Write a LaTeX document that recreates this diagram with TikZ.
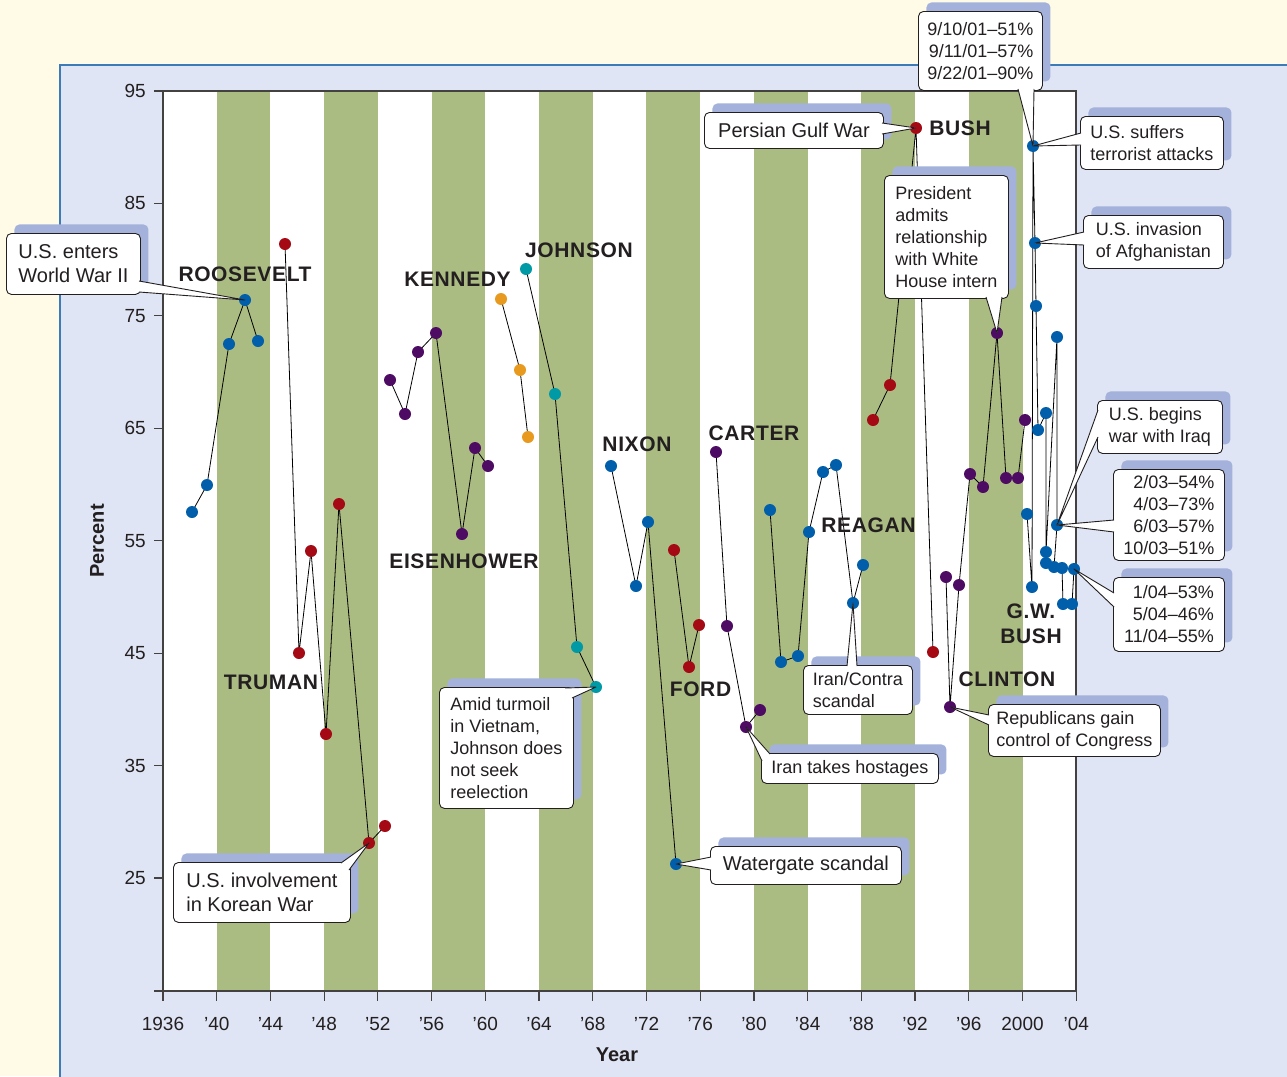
\documentclass[tikz,border=0pt]{standalone}
\usepackage{fontspec}
\setmainfont{Liberation Sans}
\newfontfamily\presfamily[LetterSpace=3]{Liberation Sans}
\usetikzlibrary{positioning,calc,shadows}
\definecolor{cream}{HTML}{FFFBE7}
\definecolor{panelblue}{HTML}{DFE5F4}
\definecolor{panelline}{HTML}{3D7AB8}
\definecolor{bandgreen}{HTML}{ABBC83}
\definecolor{shadowblue}{HTML}{A4B2DB}
\definecolor{dotblue}{HTML}{005EAA}
\definecolor{dotred}{HTML}{A50A14}
\definecolor{dotpurple}{HTML}{4E0B63}
\definecolor{dotorange}{HTML}{E89A1E}
\definecolor{dotteal}{HTML}{009AA6}
\definecolor{inkdark}{HTML}{231F20}
\pgfdeclarelayer{background}
\pgfdeclarelayer{lines}
\pgfsetlayers{background,lines,main}
\newcommand{\boxfont}{\fontsize{18}{22}\selectfont}
\newcommand{\bigboxfont}{\fontsize{20}{24}\selectfont}
% one president's points, joined in order
\newcommand{\presline}[2]{\draw[edge_style] (#11.center) \foreach \i in {2,...,#2} {-- (#1\i.center)};}
% speech bubble tail from a box to a point
\newcommand{\bubbletail}[3]{%
  \fill[white] (#1) -- (#3.center) -- (#2) -- cycle;
  \draw[tail_style] (#1) -- (#3.center) -- (#2);}

\begin{document}
\begin{tikzpicture}[x=1pt,y=-1pt]
     \tikzstyle{dot_style} = [circle,inner sep=0pt,minimum size=12pt]
     \tikzstyle{edge_style} = [draw=black,line width=0.8pt]
     \tikzstyle{axis_style} = [draw=inkdark!85,line width=1.2pt]
     \tikzstyle{tick_label} = [font=\fontsize{19}{22}\selectfont,text=inkdark,inner sep=0pt]
     \tikzstyle{title_label} = [font=\fontsize{20}{24}\selectfont\bfseries,text=inkdark,inner sep=0pt]
     \tikzstyle{pres_style} = [font=\presfamily\bfseries\fontsize{21}{25}\selectfont,text=inkdark,align=center,inner sep=0pt]
     \tikzstyle{box_style} = [draw=inkdark,fill=white,rounded corners=5pt,line width=0.9pt,inner sep=0pt,anchor=north west,text=inkdark,
        drop shadow={shadow xshift=8pt,shadow yshift=9pt,fill=shadowblue,opacity=1}]
     \tikzstyle{tail_style} = [draw=inkdark,line width=0.9pt,line join=round]
     \useasboundingbox (0,0) rectangle (1287,1076);

     % backdrop, panel, bands, axes
     \begin{pgfonlayer}{background}
     \fill[cream] (0,0) rectangle (1287,1076);
     \fill[panelblue] (60,65) rectangle (1290,1080);
     \draw[panelline,line width=1.3pt] (60,1080) -- (60,65) -- (1290,65);
     \fill[white] (163,91) rectangle (1076,991);
     \foreach \yr in {1940,1948,...,1996}
       \fill[bandgreen] ({163+(\yr-1936)*13.43},91) rectangle ({163+(\yr-1932)*13.43},991);
     \draw[axis_style] (154,91) -- (1076,91) -- (1076,991);
     \draw[axis_style] (163,91) -- (163,991);
     \draw[axis_style] (154,991) -- (1076,991);
     \foreach \v in {25,35,...,95}
       \draw[axis_style] (154,{91+(95-\v)*11.243}) -- (163,{91+(95-\v)*11.243});
     \foreach \yr in {1936,1940,...,2004}
       \draw[axis_style] ({163+(\yr-1936)*13.43},991) -- ({163+(\yr-1936)*13.43},1001);
     \end{pgfonlayer}

     \foreach \v in {25,35,...,95}
       \node[tick_label,anchor=east] (ylab\v) at (146,{91+(95-\v)*11.243}) {\v};
     \foreach \yr/\lab in {1936/1936,1940/’40,1944/’44,1948/’48,1952/’52,1956/’56,1960/’60,1964/’64,1968/’68,
                           1972/’72,1976/’76,1980/’80,1984/’84,1988/’88,1992/’92,1996/’96,2000/2000,2004/’04}
       \node[tick_label] (xlab\yr) at ({163+(\yr-1936)*13.43},1024) {\lab};
     \node[title_label,rotate=90] (ytitle) at (97,541) {Percent};
     \node[title_label] (xtitle) at (617,1055) {Year};

     % approval points
     \foreach \n/\x/\y in {1/192/512,2/207/485,3/229/344,4/245/300,5/258/341}
       \node[dot_style,fill=dotblue] (fdr\n) at (\x,\y) {};
     \foreach \n/\x/\y in {1/285/244,2/299/653,3/311/551,4/326/734,5/339/504,6/369/843,7/385/826}
       \node[dot_style,fill=dotred] (hst\n) at (\x,\y) {};
     \foreach \n/\x/\y in {1/390/380,2/405/414,3/418/352,4/436/333,5/462/534,6/475/448,7/488/466}
       \node[dot_style,fill=dotpurple] (ike\n) at (\x,\y) {};
     \foreach \n/\x/\y in {1/501/299,2/520/370,3/528/437}
       \node[dot_style,fill=dotorange] (jfk\n) at (\x,\y) {};
     \foreach \n/\x/\y in {1/526/269,2/555/394,3/577/647,4/596/687}
       \node[dot_style,fill=dotteal] (lbj\n) at (\x,\y) {};
     \foreach \n/\x/\y in {1/611/466,2/636/586,3/648/522,4/676/864}
       \node[dot_style,fill=dotblue] (rmn\n) at (\x,\y) {};
     \foreach \n/\x/\y in {1/674/550,2/689/667,3/699/625}
       \node[dot_style,fill=dotred] (grf\n) at (\x,\y) {};
     \foreach \n/\x/\y in {1/716/452,2/727/626,3/746/727,4/760/710}
       \node[dot_style,fill=dotpurple] (jec\n) at (\x,\y) {};
     \foreach \n/\x/\y in {1/770/510,2/781/662,3/798/656,4/809/532,5/823/472,6/836/465,7/853/603,8/863/565}
       \node[dot_style,fill=dotblue] (rwr\n) at (\x,\y) {};
     \foreach \n/\x/\y in {1/873/420,2/890/385,3/916/128,4/933/652}
       \node[dot_style,fill=dotred] (ghb\n) at (\x,\y) {};
     \foreach \n/\x/\y in {1/946/577,2/950/707,3/959/585,4/970/474,5/983/487,6/997/333,7/1006/478,8/1018/478,9/1025/420}
       \node[dot_style,fill=dotpurple] (wjc\n) at (\x,\y) {};
     \foreach \n/\x/\y in {1/1027/514,2/1032/587,3/1033/146,4/1035/243,5/1036/306,6/1038/430,7/1046/413,8/1046/563,
                           9/1046/552,10/1057/337,11/1057/525,12/1054/567,13/1062/568,14/1063/604,15/1072/604,16/1074/569}
       \node[dot_style,fill=dotblue] (gwb\n) at (\x,\y) {};

     \begin{pgfonlayer}{lines}
     \presline{fdr}{5}
     \presline{hst}{7}
     \presline{ike}{7}
     \presline{jfk}{3}
     \presline{lbj}{4}
     \presline{rmn}{4}
     \presline{grf}{3}
     \presline{jec}{4}
     \presline{rwr}{8}
     \presline{ghb}{4}
     \presline{wjc}{9}
     \presline{gwb}{16}
     \end{pgfonlayer}

     % president names
     \node[pres_style] (nfdr) at (245,274.5) {ROOSEVELT};
     \node[pres_style] (nhst) at (271,682.5) {TRUMAN};
     \node[pres_style] (nike) at (464,561) {EISENHOWER};
     \node[pres_style] (njfk) at (457.5,279) {KENNEDY};
     \node[pres_style] (nlbj) at (579,250) {JOHNSON};
     \node[pres_style] (nrmn) at (637,444.5) {NIXON};
     \node[pres_style] (ngrf) at (700.5,689) {FORD};
     \node[pres_style] (njec) at (754,433) {CARTER};
     \node[pres_style] (nrwr) at (868.5,525) {REAGAN};
     \node[pres_style] (nghb) at (960,128) {BUSH};
     \node[pres_style] (nwjc) at (1007,679) {CLINTON};
     \node[pres_style] (ngwb) at (1031,624) {G.W.\\BUSH};

     % callouts
     \node[box_style,minimum width=134pt,minimum height=61pt,font=\bigboxfont,align=left] (wwii) at (6,233) {U.S. enters\\World War II};
     \bubbletail{$(wwii.north west)+(133,48)$}{$(wwii.north west)+(133,59)$}{fdr4}
     \node[box_style,minimum width=177pt,minimum height=60pt,font=\bigboxfont,align=left] (korea) at (173,862) {U.S. involvement\\in Korean War};
     \bubbletail{$(korea.north west)+(168,1)$}{$(korea.north west)+(176,8)$}{hst6}
     \node[box_style,minimum width=134pt,minimum height=121pt,font=\boxfont,align=left] (vietnam) at (439,687) {Amid turmoil\\in Vietnam,\\Johnson does\\not seek\\reelection};
     \bubbletail{$(vietnam.north west)+(126,1)$}{$(vietnam.north west)+(133,11)$}{lbj4}
     \node[box_style,minimum width=179pt,minimum height=36pt,font=\bigboxfont,align=left] (gulf) at (704,112) {Persian Gulf War};
     \bubbletail{$(gulf.north west)+(178,11)$}{$(gulf.north west)+(178,22)$}{ghb3}
     \node[box_style,minimum width=124pt,minimum height=123pt,font=\boxfont,align=left] (intern) at (884,175) {President\\admits\\relationship\\with White\\House intern};
     \bubbletail{$(intern.north west)+(102,122)$}{$(intern.north west)+(118,122)$}{wjc6}
     \node[box_style,minimum width=124pt,minimum height=79pt,font=\boxfont,align=right] (sept) at (918,11) {9/10/01–51\%\\9/11/01–57\%\\9/22/01–90\%};
     \bubbletail{$(sept.north west)+(100,78)$}{$(sept.north west)+(116,78)$}{gwb3}
     \node[box_style,minimum width=143pt,minimum height=53pt,font=\boxfont,align=left] (attack) at (1080,116) {U.S. suffers\\terrorist attacks};
     \bubbletail{$(attack.north west)+(1,17)$}{$(attack.north west)+(1,29)$}{gwb3}
     \node[box_style,minimum width=140pt,minimum height=53pt,font=\boxfont,align=left] (afghan) at (1083,215) {U.S. invasion\\of Afghanistan};
     \bubbletail{$(afghan.north west)+(1,17)$}{$(afghan.north west)+(1,30)$}{gwb4}
     \node[box_style,minimum width=125pt,minimum height=53pt,font=\boxfont,align=left] (iraq) at (1097,400) {U.S. begins\\war with Iraq};
     \bubbletail{$(iraq.north west)+(1,10)$}{$(iraq.north west)+(1,37)$}{gwb11}
     \node[box_style,minimum width=111pt,minimum height=91pt,font=\boxfont,align=right] (iraqpct) at (1113,469) {2/03–54\%\\4/03–73\%\\6/03–57\%\\10/03–51\%};
     \bubbletail{$(iraqpct.north west)+(1,51)$}{$(iraqpct.north west)+(1,63)$}{gwb11}
     \node[box_style,minimum width=111pt,minimum height=74pt,font=\boxfont,align=right] (pctfour) at (1113,577) {1/04–53\%\\5/04–46\%\\11/04–55\%};
     \bubbletail{$(pctfour.north west)+(1,16)$}{$(pctfour.north west)+(1,30)$}{gwb16}
     \node[box_style,minimum width=172pt,minimum height=52pt,font=\boxfont,align=left] (congress) at (988,704) {Republicans gain\\control of Congress};
     \bubbletail{$(congress.north west)+(1,11)$}{$(congress.north west)+(1,21)$}{wjc2}
     \node[box_style,minimum width=109pt,minimum height=49pt,font=\boxfont,align=left] (contra) at (803,665) {Iran/Contra\\scandal};
     \bubbletail{$(contra.north west)+(44,1)$}{$(contra.north west)+(54,1)$}{rwr7}
     \node[box_style,minimum width=177pt,minimum height=30pt,font=\boxfont,align=left] (hostage) at (761,753) {Iran takes hostages};
     \bubbletail{$(hostage.north west)+(1,8)$}{$(hostage.north west)+(9,1)$}{jec3}
     \node[box_style,minimum width=191pt,minimum height=38pt,font=\bigboxfont,align=left] (watergate) at (710,846) {Watergate scandal};
     \bubbletail{$(watergate.north west)+(1,11)$}{$(watergate.north west)+(1,24)$}{rmn4}
\end{tikzpicture}
\end{document}
